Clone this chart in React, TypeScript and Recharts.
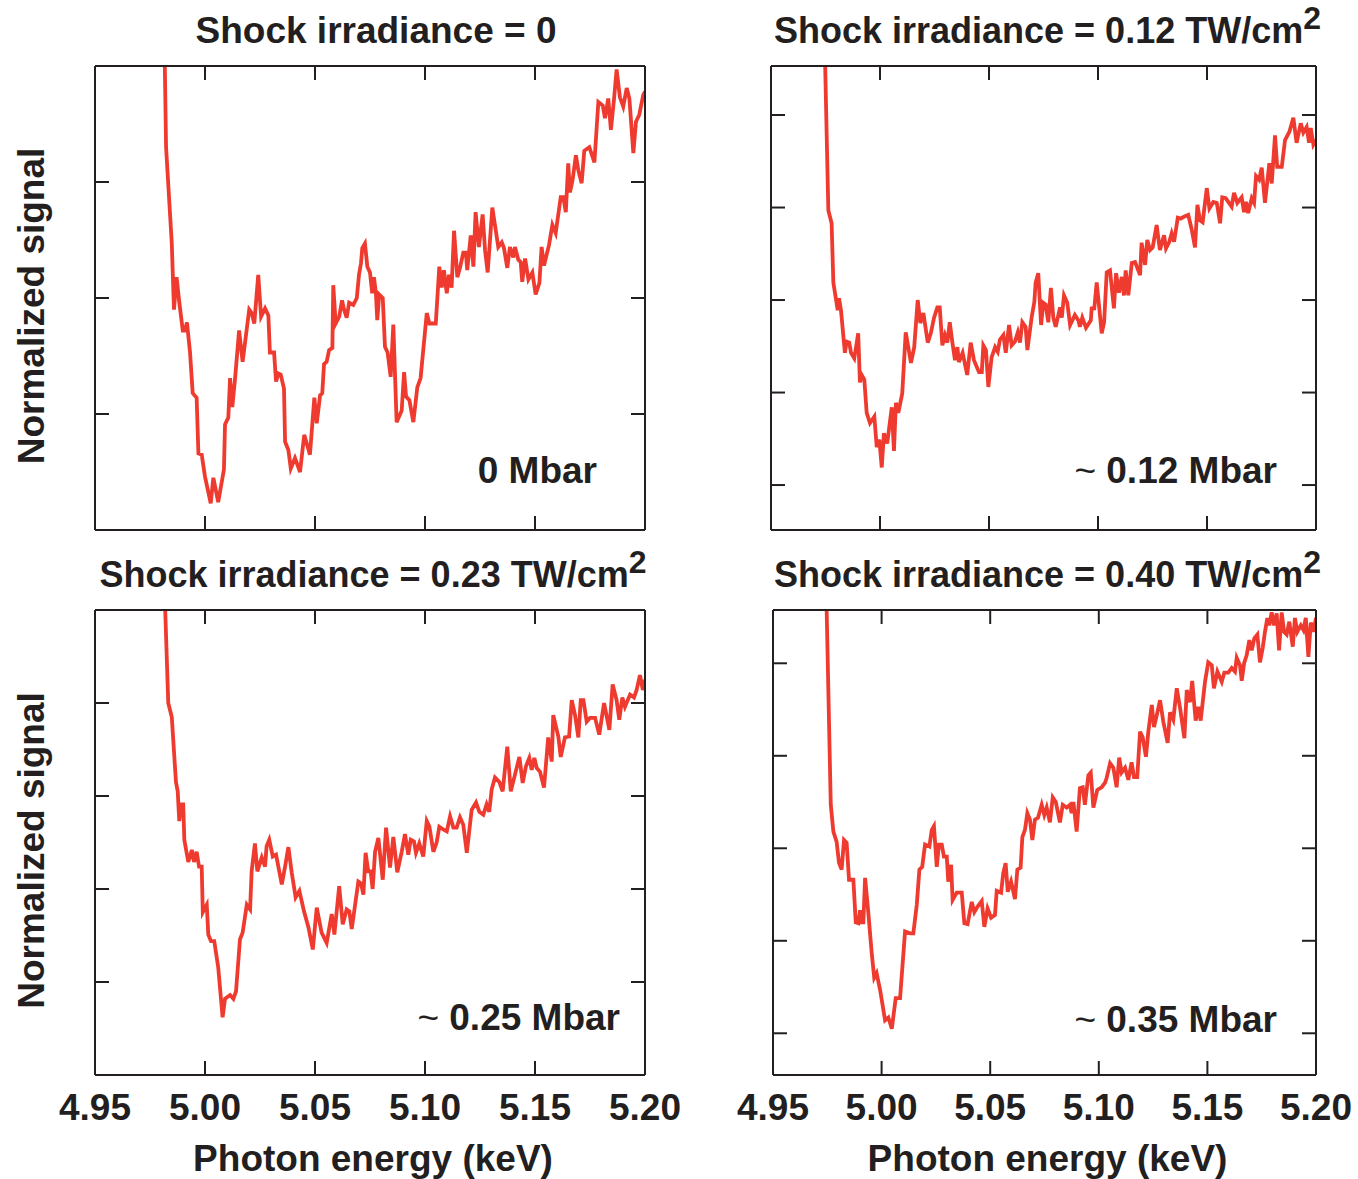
import { LineChart, Line, XAxis, YAxis } from "recharts";

const PAGE_W = 1358;
const PAGE_H = 1179;
const INK = "#231f20";
const RED = "#ef3b2f";
const FONT = "'Liberation Sans', Arial, Helvetica, sans-serif";

const energyTicks = [4.95, 5.0, 5.05, 5.1, 5.15, 5.2];

// shock irradiance = 0
const energyA = [
  4.9815, 4.9823, 4.9849, 4.9859, 4.9871, 4.9882, 4.9899, 4.9909, 4.9918, 4.9932,
  4.9944, 4.9962, 4.997, 4.9985, 5.0, 5.0026, 5.0038, 5.006, 5.0086, 5.0091,
  5.0106, 5.0114, 5.0124, 5.0136, 5.0155, 5.0171, 5.0201, 5.0212, 5.0224, 5.0242,
  5.0255, 5.0273, 5.0288, 5.0295, 5.0314, 5.0323, 5.0333, 5.0344, 5.0359, 5.0364,
  5.0379, 5.039, 5.0409, 5.0432, 5.0451, 5.0477, 5.0497, 5.0508, 5.0523, 5.0533,
  5.0541, 5.0553, 5.0564, 5.0579, 5.0583, 5.0594, 5.061, 5.0623, 5.0632, 5.0644,
  5.0655, 5.0674, 5.069, 5.07, 5.0709, 5.0715, 5.0727, 5.0738, 5.075, 5.076,
  5.0768, 5.0777, 5.0783, 5.0792, 5.0808, 5.0818, 5.083, 5.0844, 5.0856, 5.0871,
  5.0894, 5.0905, 5.0914, 5.0929, 5.0947, 5.0965, 5.098, 5.1008, 5.102, 5.1049,
  5.1065, 5.1076, 5.1086, 5.1099, 5.1109, 5.1121, 5.1132, 5.1147, 5.1159, 5.1174,
  5.1186, 5.1192, 5.1208, 5.122, 5.123, 5.1245, 5.1262, 5.1273, 5.1285, 5.1306,
  5.1333, 5.1349, 5.1359, 5.1374, 5.1386, 5.1401, 5.1409, 5.1424, 5.1435, 5.1442,
  5.1455, 5.147, 5.1488, 5.1503, 5.152, 5.153, 5.1541, 5.1564, 5.1579, 5.1594,
  5.1617, 5.1629, 5.164, 5.1651, 5.1659, 5.1671, 5.1686, 5.1697, 5.1712, 5.1724,
  5.1747, 5.177, 5.1788, 5.1808, 5.1818, 5.1833, 5.1845, 5.1859, 5.1871, 5.1886,
  5.1901, 5.1917, 5.1929, 5.1947, 5.1959, 5.1974, 5.1992, 5.2,
];
const signalA = [
  4.3, 3.3, 2.47, 1.9, 2.18, 1.98, 1.72, 1.72, 1.79, 1.53,
  1.18, 1.14, 0.66, 0.65, 0.46, 0.23, 0.45, 0.24, 0.52, 0.91,
  0.97, 1.31, 1.06, 1.29, 1.72, 1.45, 1.9, 1.87, 1.78, 2.2,
  1.84, 1.91, 1.85, 1.53, 1.53, 1.28, 1.35, 1.34, 1.22, 0.76,
  0.69, 0.53, 0.62, 0.5, 0.82, 0.65, 1.14, 0.92, 1.16, 1.18,
  1.43, 1.45, 1.55, 1.57, 2.11, 1.78, 1.84, 1.98, 1.9, 1.83,
  1.96, 1.94, 2.0, 2.2, 2.3, 2.43, 2.47, 2.27, 2.22, 2.04,
  2.18, 2.04, 1.81, 2.03, 2.0, 1.58, 1.53, 1.32, 1.77, 0.93,
  1.03, 1.36, 1.15, 1.12, 0.93, 1.23, 1.31, 1.87, 1.78, 1.78,
  2.27, 2.09, 2.24, 2.04, 2.2, 2.09, 2.58, 2.18, 2.26, 2.39,
  2.39, 2.24, 2.54, 2.27, 2.74, 2.44, 2.72, 2.41, 2.22, 2.78,
  2.44, 2.48, 2.43, 2.26, 2.44, 2.35, 2.44, 2.33, 2.31, 2.14,
  2.34, 2.16, 2.22, 2.03, 2.13, 2.44, 2.28, 2.46, 2.63, 2.56,
  2.87, 2.87, 2.74, 3.16, 2.91, 3.02, 3.23, 3.1, 2.99, 3.27,
  3.3, 3.17, 3.69, 3.66, 3.55, 3.72, 3.45, 3.71, 3.97, 3.73,
  3.65, 3.81, 3.72, 3.25, 3.52, 3.58, 3.75, 3.78,
];

// shock irradiance = 0.12 TW/cm2
const energyB = [
  4.9746, 4.9763, 4.9778, 4.9786, 4.9806, 4.9812, 4.9821, 4.9839, 4.9847, 4.9859,
  4.9867, 4.9882, 4.99, 4.9908, 4.9916, 4.9928, 4.9939, 4.9954, 4.9974, 4.9985,
  4.9997, 5.0008, 5.0018, 5.0033, 5.0054, 5.0064, 5.0073, 5.0084, 5.0102, 5.0118,
  5.0142, 5.0157, 5.0173, 5.0185, 5.0199, 5.0219, 5.0233, 5.0248, 5.0263, 5.0274,
  5.0286, 5.0298, 5.0309, 5.032, 5.0332, 5.0344, 5.0355, 5.0362, 5.0379, 5.04,
  5.0416, 5.0431, 5.0454, 5.0467, 5.0474, 5.0486, 5.0497, 5.0512, 5.0528, 5.054,
  5.055, 5.0566, 5.0577, 5.0592, 5.0604, 5.0619, 5.0632, 5.0642, 5.0653, 5.0668,
  5.0676, 5.0696, 5.0708, 5.0714, 5.0726, 5.0739, 5.0749, 5.076, 5.0772, 5.0784,
  5.0795, 5.0806, 5.0826, 5.0834, 5.0844, 5.0859, 5.0872, 5.0894, 5.091, 5.0917,
  5.0928, 5.0945, 5.0967, 5.0971, 5.0983, 5.0994, 5.1006, 5.1017, 5.1028, 5.104,
  5.1055, 5.1073, 5.1083, 5.1096, 5.1109, 5.1119, 5.1127, 5.1139, 5.1155, 5.117,
  5.1193, 5.12, 5.1216, 5.1226, 5.1239, 5.1251, 5.1269, 5.1284, 5.1303, 5.1312,
  5.1327, 5.1338, 5.1349, 5.1366, 5.1379, 5.1394, 5.1414, 5.143, 5.1445, 5.1456,
  5.1468, 5.148, 5.1499, 5.1511, 5.1529, 5.1545, 5.156, 5.157, 5.1586, 5.1613,
  5.1624, 5.1639, 5.1659, 5.167, 5.1679, 5.1689, 5.1705, 5.1716, 5.1725, 5.1739,
  5.1751, 5.1766, 5.1786, 5.1797, 5.1812, 5.1822, 5.1843, 5.1858, 5.1878, 5.1896,
  5.1911, 5.193, 5.1942, 5.1957, 5.1968, 5.1976, 5.1988, 5.2,
];
const signalB = [
  5.8, 3.97, 3.83, 3.19, 2.89, 3.02, 2.89, 2.43, 2.55, 2.54,
  2.43, 2.37, 2.64, 2.11, 2.19, 2.14, 1.78, 1.67, 1.74, 1.41,
  1.49, 1.19, 1.56, 1.45, 1.84, 1.37, 1.89, 1.78, 1.99, 2.65,
  2.32, 2.49, 3.0, 2.75, 2.86, 2.54, 2.64, 2.81, 2.92, 2.92,
  2.51, 2.62, 2.54, 2.76, 2.54, 2.35, 2.49, 2.33, 2.43, 2.19,
  2.54, 2.35, 2.22, 2.22, 2.51, 2.46, 2.06, 2.38, 2.49, 2.44,
  2.57, 2.62, 2.43, 2.73, 2.51, 2.55, 2.65, 2.54, 2.76, 2.71,
  2.46, 2.82, 2.98, 3.19, 3.29, 2.73, 2.97, 2.95, 2.76, 3.13,
  2.81, 2.71, 2.92, 2.81, 3.05, 2.97, 2.73, 2.84, 2.78, 2.71,
  2.81, 2.7, 2.78, 2.91, 2.91, 3.19, 2.91, 2.64, 2.76, 3.3,
  3.32, 2.91, 3.29, 3.08, 3.25, 3.05, 3.32, 3.05, 3.4, 3.41,
  3.27, 3.62, 3.38, 3.65, 3.54, 3.57, 3.81, 3.54, 3.7, 3.56,
  3.63, 3.72, 3.63, 3.89, 3.88, 3.9, 3.92, 3.76, 3.57, 4.03,
  3.86, 3.84, 4.21, 3.99, 4.06, 4.05, 3.83, 4.11, 4.1, 4.01,
  4.16, 4.05, 4.11, 3.95, 4.06, 3.94, 4.1, 4.05, 4.34, 4.3,
  4.43, 4.05, 4.48, 4.26, 4.78, 4.44, 4.44, 4.73, 4.82, 4.97,
  4.7, 4.91, 4.81, 4.87, 4.7, 4.86, 4.68, 4.73,
];

// shock irradiance = 0.23 TW/cm2
const energyC = [
  4.9815, 4.9833, 4.9849, 4.9868, 4.9876, 4.9883, 4.9891, 4.9901, 4.9906, 4.9924,
  4.994, 4.995, 4.9962, 4.9973, 4.9985, 4.999, 5.0008, 5.0015, 5.0027, 5.0042,
  5.006, 5.008, 5.0091, 5.0114, 5.0129, 5.0141, 5.0159, 5.0171, 5.019, 5.0205,
  5.0212, 5.0227, 5.0238, 5.0258, 5.0273, 5.028, 5.0292, 5.0308, 5.0323, 5.0349,
  5.0364, 5.0379, 5.0394, 5.0412, 5.0429, 5.045, 5.047, 5.049, 5.0508, 5.053,
  5.0553, 5.0576, 5.0588, 5.061, 5.0626, 5.0644, 5.0656, 5.0667, 5.0697, 5.0709,
  5.072, 5.073, 5.0742, 5.0753, 5.0762, 5.0773, 5.0788, 5.0808, 5.0823, 5.0841,
  5.0856, 5.0874, 5.0894, 5.0909, 5.0924, 5.0935, 5.095, 5.0959, 5.0974, 5.0992,
  5.1008, 5.102, 5.1038, 5.1053, 5.1065, 5.1083, 5.1099, 5.1114, 5.1129, 5.1144,
  5.1159, 5.1174, 5.119, 5.1212, 5.1232, 5.1247, 5.1265, 5.128, 5.1292, 5.1303,
  5.1318, 5.1338, 5.1353, 5.1374, 5.139, 5.1409, 5.1429, 5.1444, 5.1459, 5.1474,
  5.1485, 5.1497, 5.1508, 5.1523, 5.1541, 5.156, 5.1576, 5.1583, 5.1606, 5.1617,
  5.1636, 5.1655, 5.1667, 5.1682, 5.1697, 5.1708, 5.172, 5.1735, 5.175, 5.1773,
  5.1792, 5.1814, 5.1838, 5.1853, 5.1871, 5.1883, 5.1897, 5.1909, 5.1932, 5.195,
  5.1962, 5.1977, 5.199, 5.2,
];
const signalC = [
  5.3, 4.0, 3.85, 3.15, 3.05, 2.73, 2.91, 2.91, 2.53, 2.29,
  2.42, 2.29, 2.4, 2.24, 2.24, 1.75, 1.83, 1.51, 1.44, 1.44,
  1.16, 0.62, 0.82, 0.86, 0.82, 0.9, 1.46, 1.53, 1.83, 1.78,
  2.19, 2.49, 2.19, 2.34, 2.24, 2.46, 2.53, 2.35, 2.37, 2.05,
  2.24, 2.45, 2.18, 1.91, 1.98, 1.76, 1.59, 1.35, 1.8, 1.53,
  1.42, 1.73, 1.51, 2.03, 1.62, 1.78, 1.76, 1.57, 2.08, 2.06,
  1.94, 2.39, 2.19, 2.19, 2.0, 2.4, 2.55, 2.1, 2.66, 2.23,
  2.56, 2.18, 2.4, 2.59, 2.37, 2.53, 2.51, 2.39, 2.49, 2.35,
  2.73, 2.67, 2.4, 2.5, 2.67, 2.64, 2.62, 2.78, 2.66, 2.66,
  2.77, 2.69, 2.39, 2.85, 2.93, 2.83, 2.8, 2.91, 2.83, 3.07,
  3.2, 3.15, 3.05, 3.53, 3.05, 3.23, 3.42, 3.14, 3.32, 3.41,
  3.28, 3.41, 3.3, 3.26, 3.09, 3.63, 3.37, 3.87, 3.64, 3.42,
  3.63, 3.64, 4.03, 3.87, 3.63, 4.03, 4.03, 3.8, 3.84, 3.84,
  3.66, 4.0, 3.71, 4.2, 4.03, 3.82, 4.06, 3.96, 4.09, 4.06,
  4.14, 4.3, 4.14, 4.25,
];

// shock irradiance = 0.40 TW/cm2
const energyD = [
  4.9745, 4.9766, 4.9778, 4.9793, 4.9804, 4.9816, 4.9827, 4.9839, 4.985, 4.987,
  4.9881, 4.9893, 4.9901, 4.9908, 4.9916, 4.9924, 4.9939, 4.9954, 4.9966, 4.9977,
  4.9993, 5.0016, 5.0031, 5.0047, 5.0065, 5.0085, 5.0108, 5.0131, 5.0146, 5.0162,
  5.0174, 5.0187, 5.02, 5.022, 5.0231, 5.0241, 5.0254, 5.0264, 5.0277, 5.0287,
  5.03, 5.0307, 5.032, 5.0327, 5.0346, 5.0369, 5.0381, 5.0396, 5.0415, 5.0427,
  5.0442, 5.0461, 5.0473, 5.0488, 5.0504, 5.0522, 5.053, 5.055, 5.056, 5.0571,
  5.0581, 5.0596, 5.0614, 5.0625, 5.064, 5.0648, 5.066, 5.0671, 5.0683, 5.0694,
  5.0706, 5.072, 5.0737, 5.0749, 5.076, 5.0775, 5.0788, 5.0802, 5.0821, 5.0834,
  5.0852, 5.0867, 5.0875, 5.0883, 5.0898, 5.0913, 5.0926, 5.0936, 5.0952, 5.0963,
  5.0975, 5.0993, 5.1013, 5.1029, 5.1036, 5.1052, 5.1067, 5.1082, 5.1094, 5.1105,
  5.1121, 5.1136, 5.1151, 5.1162, 5.1177, 5.119, 5.1202, 5.1217, 5.1228, 5.1244,
  5.1254, 5.1267, 5.1282, 5.1297, 5.1317, 5.1328, 5.1343, 5.1359, 5.1374, 5.1394,
  5.1405, 5.142, 5.143, 5.1446, 5.1458, 5.1469, 5.1489, 5.1504, 5.152, 5.153,
  5.1546, 5.1566, 5.1578, 5.1596, 5.1612, 5.1627, 5.1635, 5.165, 5.1658, 5.1669,
  5.1681, 5.1693, 5.1704, 5.1716, 5.173, 5.1742, 5.1755, 5.1765, 5.1776, 5.1785,
  5.1796, 5.1807, 5.1819, 5.183, 5.1842, 5.1853, 5.1865, 5.1877, 5.1893, 5.1903,
  5.1914, 5.193, 5.1942, 5.1953, 5.1965, 5.1976, 5.1988, 5.2,
];
const signalD = [
  5.8, 3.47, 3.18, 3.07, 2.84, 2.77, 3.09, 3.06, 2.66, 2.66,
  2.2, 2.19, 2.33, 2.2, 2.2, 2.68, 2.3, 1.88, 1.6, 1.65,
  1.47, 1.14, 1.17, 1.05, 1.38, 1.38, 2.1, 2.08, 2.08, 2.39,
  2.77, 2.8, 3.04, 3.02, 3.2, 3.24, 2.8, 3.04, 3.04, 2.91,
  2.91, 2.64, 2.82, 2.44, 2.52, 2.52, 2.19, 2.18, 2.42, 2.31,
  2.37, 2.43, 2.15, 2.35, 2.25, 2.28, 2.54, 2.52, 2.73, 2.84,
  2.53, 2.64, 2.45, 2.77, 2.79, 3.12, 3.2, 3.38, 3.31, 3.09,
  3.31, 3.33, 3.47, 3.36, 3.44, 3.28, 3.55, 3.5, 3.28, 3.47,
  3.44, 3.47, 3.38, 3.5, 3.18, 3.65, 3.66, 3.47, 3.79, 3.82,
  3.44, 3.63, 3.66, 3.71, 3.76, 3.92, 3.87, 3.66, 3.98, 3.82,
  3.87, 3.74, 3.93, 3.77, 3.77, 4.26, 4.2, 3.99, 4.26, 4.55,
  4.31, 4.44, 4.6, 4.37, 4.14, 4.47, 4.39, 4.73, 4.52, 4.19,
  4.71, 4.58, 4.81, 4.38, 4.53, 4.38, 4.8, 5.01, 4.98, 4.73,
  4.91, 4.8, 4.9, 4.9, 4.95, 4.91, 5.06, 4.98, 4.81, 5.0,
  5.09, 5.25, 5.14, 5.27, 5.31, 5.01, 5.17, 5.34, 5.49, 5.41,
  5.55, 5.41, 5.54, 5.14, 5.55, 5.34, 5.31, 5.45, 5.18, 5.49,
  5.34, 5.41, 5.36, 5.49, 5.07, 5.44, 5.34, 5.49,
];

const irradiances = ["0", "0.12", "0.23", "0.40"];
const pressures = ["0", "0.12", "0.25", "0.35"];

const textStyle = {
  fontFamily: FONT,
  fontWeight: 700,
  fill: INK,
};

type Box = { left: number; top: number; right: number; bottom: number };

type PanelProps = {
  energy: number[];
  signal: number[];
  box: Box;
  yDomain: [number, number];
  yTicks: number[];
  irradiance: string;
  pressure: string;
  titleShift: number;
  pressureInset: number;
  pressureLift: number;
  bottomRow: boolean;
  leftCol: boolean;
};

function EnergyTick(p: any) {
  return (
    <text x={p.x} y={p.y + 45} textAnchor="middle" fontSize={37} {...textStyle}>
      {Number(p.payload.value).toFixed(2)}
    </text>
  );
}

// keeps the tick line but draws no label
function NoLabel() {
  return <g />;
}

function Panel(props: PanelProps) {
  const { energy, signal, box, yDomain, yTicks, irradiance, pressure } = props;
  const data = energy.map((e, i) => ({ energy: e, signal: signal[i] }));
  const line = { stroke: INK, strokeWidth: 2 };

  const title = ({ viewBox }: any) => (
    <text
      x={viewBox.x + viewBox.width / 2 + props.titleShift}
      y={viewBox.y + viewBox.height - 23}
      textAnchor="middle"
      fontSize={irradiance === "0" ? 37 : 36}
      {...textStyle}
    >
      {`Shock irradiance = ${irradiance}`}
      {irradiance !== "0" && " TW/cm"}
      {irradiance !== "0" && (
        <tspan dy={-14} fontSize={32}>
          2
        </tspan>
      )}
    </text>
  );

  const pressureLabel = ({ viewBox }: any) => (
    <text
      x={viewBox.x - props.pressureInset}
      y={viewBox.y + viewBox.height - props.pressureLift}
      textAnchor="end"
      fontSize={37}
      {...textStyle}
    >
      {pressure !== "0" && <tspan fontWeight={400}>{"~ "}</tspan>}
      {`${pressure} Mbar`}
    </text>
  );

  const xTitle = ({ viewBox }: any) => (
    <text
      x={viewBox.x + viewBox.width / 2 + 3}
      y={viewBox.y + 96}
      textAnchor="middle"
      fontSize={37}
      {...textStyle}
    >
      Photon energy (keV)
    </text>
  );

  const yTitle = ({ viewBox }: any) => {
    const cx = viewBox.x + viewBox.width - 51;
    const cy = viewBox.y + viewBox.height / 2 + 8;
    return (
      <text
        x={cx}
        y={cy}
        transform={`rotate(-90, ${cx}, ${cy})`}
        textAnchor="middle"
        fontSize={37}
        {...textStyle}
      >
        Normalized signal
      </text>
    );
  };

  return (
    <div style={{ position: "absolute", left: 0, top: 0 }}>
      <LineChart
        width={PAGE_W}
        height={PAGE_H}
        data={data}
        margin={{
          top: box.top - 1,
          left: box.left - 1,
          right: PAGE_W - box.right - 1,
          bottom: PAGE_H - box.bottom - 1,
        }}
      >
        <XAxis
          xAxisId="bottom"
          type="number"
          dataKey="energy"
          domain={[4.95, 5.2]}
          ticks={energyTicks}
          allowDataOverflow
          height={1}
          tickSize={-14}
          tickMargin={14}
          stroke={INK}
          axisLine={line}
          tickLine={line}
          tick={props.bottomRow ? EnergyTick : NoLabel}
          label={props.bottomRow ? { content: xTitle } : undefined}
        />
        <XAxis
          xAxisId="top"
          orientation="top"
          type="number"
          dataKey="energy"
          domain={[4.95, 5.2]}
          ticks={energyTicks}
          allowDataOverflow
          height={1}
          tickSize={-14}
          stroke={INK}
          axisLine={line}
          tickLine={line}
          tick={NoLabel}
          label={{ content: title }}
        />
        <YAxis
          yAxisId="left"
          type="number"
          domain={yDomain}
          ticks={yTicks}
          allowDataOverflow
          width={1}
          tickSize={-14}
          stroke={INK}
          axisLine={line}
          tickLine={line}
          tick={NoLabel}
          label={props.leftCol ? { content: yTitle } : undefined}
        />
        <YAxis
          yAxisId="right"
          orientation="right"
          type="number"
          domain={yDomain}
          ticks={yTicks}
          allowDataOverflow
          width={1}
          tickSize={-14}
          stroke={INK}
          axisLine={line}
          tickLine={line}
          tick={NoLabel}
          label={{ content: pressureLabel }}
        />
        <Line
          xAxisId="bottom"
          yAxisId="left"
          type="linear"
          dataKey="signal"
          stroke={RED}
          strokeWidth={3.8}
          dot={false}
          activeDot={false}
          isAnimationActive={false}
        />
      </LineChart>
    </div>
  );
}

export default function App() {
  return (
    <div style={{ position: "relative", width: PAGE_W, height: PAGE_H, background: "#fff" }}>
      <style>{"body{margin:0}"}</style>
      <Panel
        energy={energyA}
        signal={signalA}
        box={{ left: 95, top: 66, right: 645, bottom: 530 }}
        yDomain={[0, 4]}
        yTicks={[1, 2, 3]}
        irradiance={irradiances[0]}
        pressure={pressures[0]}
        titleShift={6}
        pressureInset={48}
        pressureLift={47}
        bottomRow={false}
        leftCol
      />
      <Panel
        energy={energyB}
        signal={signalB}
        box={{ left: 771, top: 66, right: 1316, bottom: 530 }}
        yDomain={[0.514, 5.53]}
        yTicks={[1, 2, 3, 4, 5]}
        irradiance={irradiances[1]}
        pressure={pressures[1]}
        titleShift={4}
        pressureInset={39}
        pressureLift={47}
        bottomRow={false}
        leftCol={false}
      />
      <Panel
        energy={energyC}
        signal={signalC}
        box={{ left: 95, top: 610, right: 645, bottom: 1075 }}
        yDomain={[0, 5]}
        yTicks={[1, 2, 3, 4]}
        irradiance={irradiances[2]}
        pressure={pressures[2]}
        titleShift={3}
        pressureInset={25}
        pressureLift={45}
        bottomRow
        leftCol
      />
      <Panel
        energy={energyD}
        signal={signalD}
        box={{ left: 773, top: 610, right: 1316, bottom: 1075 }}
        yDomain={[0.549, 5.576]}
        yTicks={[1, 2, 3, 4, 5]}
        irradiance={irradiances[3]}
        pressure={pressures[3]}
        titleShift={3}
        pressureInset={39}
        pressureLift={43}
        bottomRow
        leftCol={false}
      />
    </div>
  );
}
